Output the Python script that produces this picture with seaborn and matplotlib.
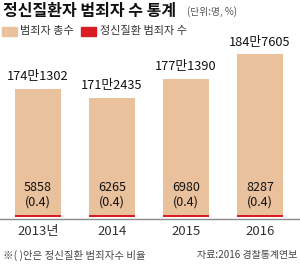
import matplotlib
matplotlib.use("Agg")
import matplotlib.pyplot as plt
import seaborn as sns

years = ["2013년", "2014", "2015", "2016"]
total_offenders = [1741302, 1712435, 1771390, 1847605]
total_labels = ["174만1302", "171만2435", "177만1390", "184만7605"]
mental_offenders = [5858, 6265, 6980, 8287]
mental_ratio = [0.4, 0.4, 0.4, 0.4]

TAN = "#E9C19D"
RED = "#D81E22"
FONT = ["Noto Sans CJK KR", "DejaVu Sans"]

sns.set_theme(style="white")
plt.rcParams["font.family"] = FONT

fig = plt.figure(figsize=(3.0, 2.68), dpi=100)
ax = fig.add_axes([0, 51 / 268, 1, 177 / 268])

sns.barplot(x=years, y=total_offenders, color=TAN, width=0.62,
            saturation=1, linewidth=0, ax=ax)
ymin, ymax = 1346000, 1891000
ax.set_ylim(ymin, ymax)
ax.set_xlim(-0.514, 3.54)

# thin red strip for the mentally ill offenders at the foot of each bar
ax.bar(range(len(years)), [7000] * len(years), bottom=ymin, width=0.62,
       color=RED, linewidth=0, zorder=3)

for i, (tot, lab, m, r) in enumerate(zip(total_offenders, total_labels,
                                         mental_offenders, mental_ratio)):
    ax.annotate(lab, (i, tot), xytext=(0, 4), textcoords="offset points",
                ha="center", va="bottom", fontsize=9.2, color="#111")
    ax.annotate(f"{m}", (i, ymin), xytext=(0, 21.5), textcoords="offset points",
                ha="center", va="center", fontsize=9, color="#111")
    ax.annotate(f"({r})", (i, ymin), xytext=(0, 10.5), textcoords="offset points",
                ha="center", va="center", fontsize=9, color="#111")

for s in ["top", "left", "right"]:
    ax.spines[s].set_visible(False)
ax.spines["bottom"].set_color("#8a8a8a")
ax.spines["bottom"].set_linewidth(1)
ax.spines["bottom"].set_position(("outward", 1.5))
ax.set_yticks([])
ax.set_ylabel("")
ax.set_xlabel("")
ax.tick_params(axis="x", length=0, pad=4, labelsize=9.5, labelcolor="#333")

fig.text(3 / 300, 1 - 11 / 268, "정신질환자 범죄자 수 통계", fontsize=11.5,
         fontweight="bold", va="center", ha="left", color="#111")
fig.text(187 / 300, 1 - 12 / 268, "(단위:명, %)", fontsize=7, va="center",
         ha="left", color="#555")

# legend
fig.patches.append(plt.Rectangle((2 / 300, 1 - 36 / 268), 15 / 300, 9 / 268,
                                 transform=fig.transFigure, color=TAN))
fig.text(20 / 300, 1 - 31 / 268, "범죄자 총수", fontsize=8, va="center",
         ha="left", color="#333")
fig.patches.append(plt.Rectangle((81 / 300, 1 - 36 / 268), 15 / 300, 9 / 268,
                                 transform=fig.transFigure, color=RED))
fig.text(100 / 300, 1 - 31 / 268, "정신질환 범죄자 수", fontsize=8, va="center",
         ha="left", color="#333")

fig.text(3 / 300, 1 - 255 / 268, "※( )안은 정신질환 범죄자수 비율", fontsize=7.5,
         va="center", ha="left", color="#444")
fig.text(297 / 300, 1 - 255 / 268, "자료:2016 경찰통계연보", fontsize=7.2,
         va="center", ha="right", color="#444")

fig.savefig("out.png", dpi=100)
